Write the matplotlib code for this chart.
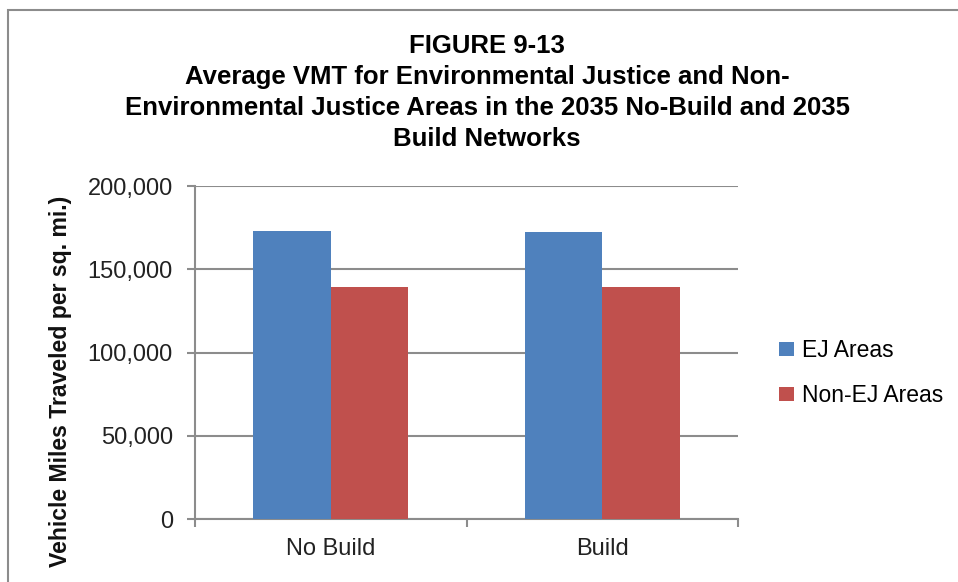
import matplotlib
matplotlib.use("Agg")
import matplotlib.pyplot as plt
import numpy as np
from matplotlib.patches import Rectangle

categories = ["No Build", "Build"]
series_names = ["EJ Areas", "Non-EJ Areas"]
ej_values = [173200, 172600]
non_ej_values = [139400, 139400]
yticks = [0, 50000, 100000, 150000, 200000]
ytick_labels = ["0", "50,000", "100,000", "150,000", "200,000"]
title_lines = ["FIGURE 9-13",
               "Average VMT for Environmental Justice and Non-",
               "Environmental Justice Areas in the 2035 No-Build and 2035",
               "Build Networks"]
ylabel = "Vehicle Miles Traveled per sq. mi.)"

body = "Liberation Sans"

W, H = 958, 582
fig = plt.figure(figsize=(W/100, H/100), dpi=100)
fig.patch.set_facecolor("white")

# outer chart frame
fig.patches.append(Rectangle((8/W, -0.1), 1.2, 1 - 10/H + 0.1, transform=fig.transFigure,
                             fill=False, edgecolor="#8c8c8c", linewidth=1.5))

ax = fig.add_axes([195/W, 1-519/H, (738-195)/W, (519-186)/H])
x = np.arange(len(categories))
bw = 0.285
ax.bar(x - bw/2, ej_values, bw, color="#4F81BD", label=series_names[0], zorder=3)
ax.bar(x + bw/2, non_ej_values, bw, color="#C0504D", label=series_names[1], zorder=3)

ax.set_xlim(-0.5, 1.5)
ax.set_ylim(0, 200000)
ax.set_yticks(yticks)
ax.set_yticklabels(ytick_labels, fontsize=17, family=body, color="#222222")
ax.yaxis.grid(True, color="#8c8c8c", linewidth=1.5, zorder=0)
ax.set_xticks([-0.5, 0.5, 1.5])
ax.set_xticklabels([])
ax.set_xticks(x, minor=True)
ax.set_xticklabels(categories, minor=True, fontsize=17, family=body, color="#222222")
ax.tick_params(axis="x", which="minor", length=0, pad=14)
ax.tick_params(axis="x", which="major", length=6, width=1.5, color="#8c8c8c", direction="out")
ax.tick_params(axis="y", length=6, width=1.5, color="#8c8c8c", direction="out", pad=10)
for s in ["top", "right"]:
    ax.spines[s].set_visible(False)
for s in ["left", "bottom"]:
    ax.spines[s].set_color("#8c8c8c")
    ax.spines[s].set_linewidth(1.5)

fig.text(61/W, 1-381.5/H, ylabel, rotation=90, ha="center", va="center",
         fontsize=16.6, fontweight="bold", family=body, color="#111111")

for i, line in enumerate(title_lines):
    fig.text(487/W, 1-(46+31*i)/H, line, ha="center", va="center",
             fontsize=18.5, fontweight="bold", family=body, color="#000000")

ax.legend(loc="center left", bbox_to_anchor=(779/W, 1-373/H), bbox_transform=fig.transFigure,
          frameon=False, prop={"family": body, "size": 16.5}, handlelength=0.65,
          handleheight=0.6, handletextpad=0.35, labelspacing=0.97,
          borderpad=0, borderaxespad=0)

fig.savefig("out.png", dpi=100)
